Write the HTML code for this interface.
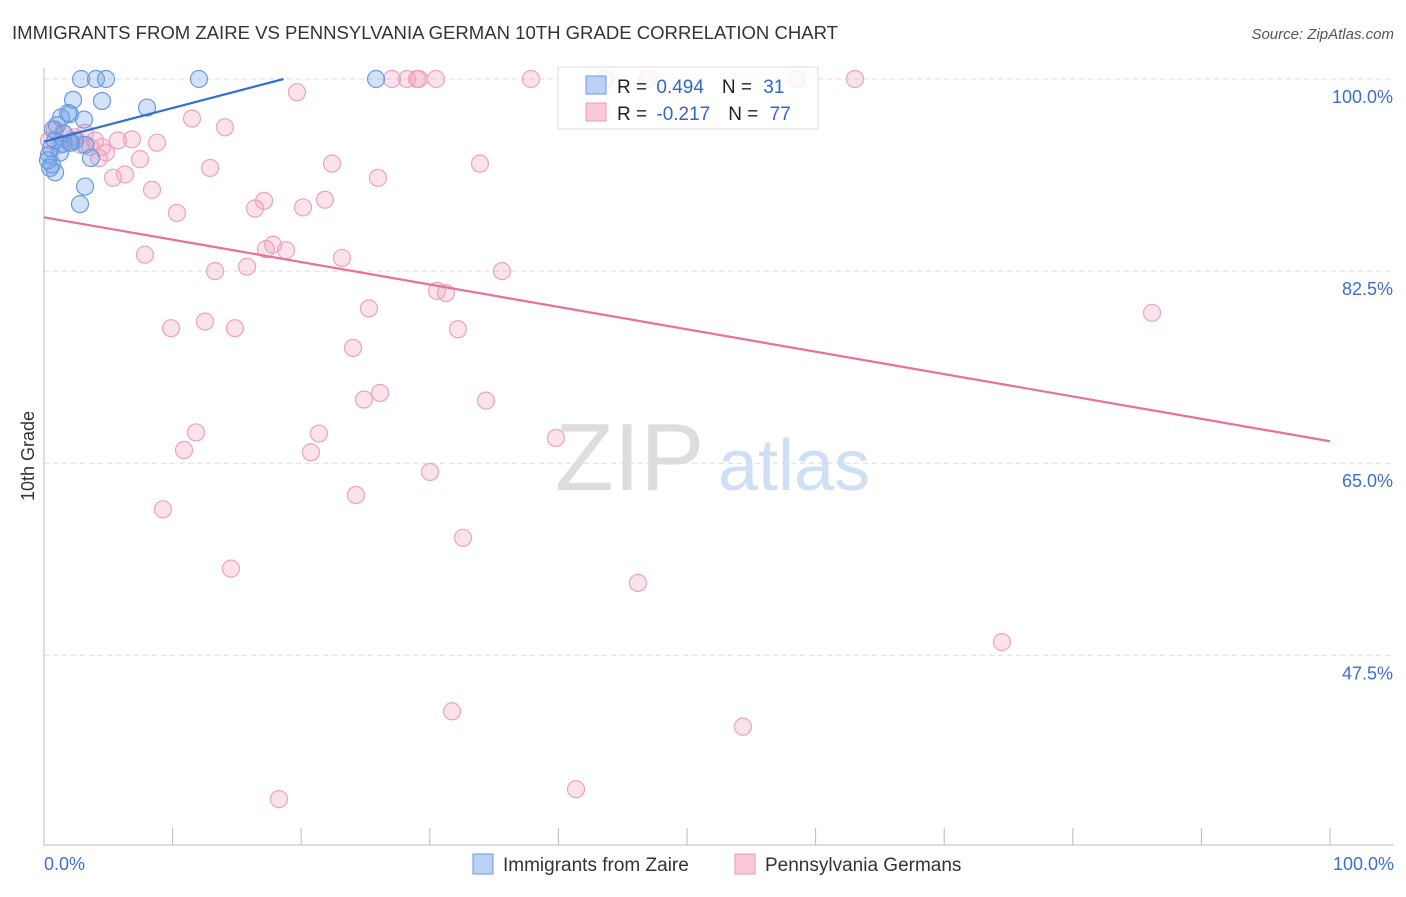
<!DOCTYPE html>
<html><head><meta charset="utf-8"><style>
body{margin:0;background:#fff;font-family:"Liberation Sans",sans-serif}
svg text{font-family:"Liberation Sans",sans-serif}
</style></head><body>
<svg id="chart" width="1406" height="892">
<text x="12" y="39" font-size="18" fill="#333" textLength="826" lengthAdjust="spacingAndGlyphs">IMMIGRANTS FROM ZAIRE VS PENNSYLVANIA GERMAN 10TH GRADE CORRELATION CHART</text>
<text x="1394" y="39" font-size="15" fill="#555" font-style="italic" text-anchor="end">Source: ZipAtlas.com</text>
<text x="555" y="490" font-size="96" fill="#ddd" font-family="Liberation Serif">ZIP</text>
<text x="718" y="490" font-size="72" fill="#cfdff5">atlas</text>
<text transform="translate(34,456) rotate(-90)" font-size="18" fill="#333" text-anchor="middle">10th Grade</text>
<g id="grid"></g><g id="pts"></g><g id="lines"></g>
<g>
<rect x="558" y="67" width="260" height="62" fill="rgba(255,255,255,0.8)" stroke="#ddd"/>
<rect x="586" y="76" width="20" height="18" fill="#b9d2f5" stroke="#6a9be0"/>
<rect x="586" y="103" width="20" height="18" fill="#fbcad9" stroke="#e89ab5"/>
<text x="617" y="93" font-size="19" fill="#222">R = <tspan fill="#3366cc" dx="4">0.494</tspan><tspan dx="18">N = </tspan><tspan fill="#3366cc" dx="6">31</tspan></text>
<text x="617" y="120" font-size="19" fill="#222">R = <tspan fill="#3366cc" dx="4">-0.217</tspan><tspan dx="18">N = </tspan><tspan fill="#3366cc" dx="6">77</tspan></text>
</g>
<g>
<rect x="473" y="854" width="20" height="20" fill="#b9d2f5" stroke="#6a9be0"/>
<text x="503" y="871" font-size="19" fill="#333">Immigrants from Zaire</text>
<rect x="735" y="854" width="20" height="20" fill="#fbcad9" stroke="#e89ab5"/>
<text x="765" y="871" font-size="19" fill="#333">Pennsylvania Germans</text>
</g>
</svg>
<script>
const yTicks=[100,82.5,65,47.5];
const yTickLabels=["100.0%","82.5%","65.0%","47.5%"];
const xTicks=[0,10,20,30,40,50,60,70,80,90,100];
const xEndLabels=["0.0%","100.0%"];
const zaireX=[2.88,4.04,4.82,12.05,25.82,4.51,8.01,2.26,1.87,1.32,2.02,3.11,1.01,0.70,1.56,2.41,3.19,2.02,1.48,0.86,0.54,1.24,3.65,0.39,0.62,0.86,0.47,3.19,2.80,0.31,2.10];
const zaireY=[100,100,100,100,100,98.0,97.4,98.1,96.9,96.5,96.8,96.3,95.8,95.4,95.0,94.4,94.0,94.2,94.1,94.4,93.7,93.3,92.8,93.1,92.2,91.5,91.9,90.2,88.6,92.6,94.2];
const paX=[27.06,28.23,29.16,30.48,37.87,43.62,46.97,58.55,63.06,19.67,11.51,14.07,0.86,1.48,3.97,5.75,6.84,8.79,2.88,4.82,7.47,4.28,12.91,22.40,33.90,5.37,6.30,25.97,8.40,17.11,21.85,20.14,16.41,10.34,17.81,17.26,18.82,7.85,23.17,15.79,13.30,35.61,30.56,31.26,25.27,86.16,9.88,12.52,14.85,32.19,24.03,26.13,24.88,34.37,11.82,21.38,39.81,10.89,20.76,30.02,24.26,9.25,32.58,14.54,46.19,74.49,31.73,54.35,18.27,41.37,3.19,2.41,4.51,29.0,0.39,3.58,1.24];
const paY=[100,100,100,100,100,100,100,100,100,98.8,96.4,95.6,95.4,95.1,94.4,94.4,94.5,94.2,94.0,93.3,92.7,92.8,91.9,92.3,92.3,91.0,91.3,91.0,89.9,88.9,89.0,88.3,88.2,87.8,84.9,84.5,84.4,84.0,83.7,82.9,82.5,82.5,80.7,80.5,79.1,78.7,77.3,77.9,77.3,77.2,75.5,71.4,70.8,70.7,67.8,67.7,67.3,66.2,66.0,64.2,62.1,60.8,58.2,55.4,54.1,48.7,42.4,41.0,34.4,35.3,95.1,94.7,93.8,100,94.4,93.8,94.0];
const zaireTrend=[94.3,0.306];
const paTrend=[87.4,-0.204];
const X=v=>44+v*12.86, Y=v=>79+(100-v)/0.0911;
const NS="http://www.w3.org/2000/svg";
function mk(t,a,p){const e=document.createElementNS(NS,t);for(const k in a)e.setAttribute(k,a[k]);p.appendChild(e);return e;}
const grid=document.getElementById('grid');
yTicks.forEach((t,i)=>{
 const l=mk('line',{x1:44,x2:1394,y1:Y(t),y2:Y(t),stroke:'#ddd','stroke-dasharray':'5,4'},grid);
 
 
 const tx=mk('text',{x:1393,y:Y(t)+24,'font-size':18,fill:'#3c6fd0','text-anchor':'end'},grid);
 tx.textContent=yTickLabels[i];
 
 
});
const ax=mk('line',{x1:44,x2:44,y1:68,y2:845,stroke:'#bbb'},grid);


const bx=mk('line',{x1:44,x2:1394,y1:845,y2:845,stroke:'#bbb'},grid);


xTicks.forEach(t=>{const l=mk('line',{x1:X(t),x2:X(t),y1:828,y2:845,stroke:'#bbb'},grid);
 
 });
[[0,'start',44],[100,'end',1394]].forEach((d,i)=>{const tx=mk('text',{x:d[2],y:870,'font-size':18,fill:'#3c6fd0','text-anchor':d[1]},grid);tx.textContent=xEndLabels[i];
 
 });
const pts=document.getElementById('pts');
paX.forEach((x,i)=>{const c=mk('circle',{cx:X(x),cy:Y(paY[i]),r:8.5,fill:'rgba(244,160,190,0.3)',stroke:'#eca3bd','stroke-width':1.2},pts);
 
 });
zaireX.forEach((x,i)=>{const c=mk('circle',{cx:X(x),cy:Y(zaireY[i]),r:8.5,fill:'rgba(110,160,230,0.3)',stroke:'#6a9be0','stroke-width':1.2},pts);
 
 });
const lines=document.getElementById('lines');
const xe=(100-zaireTrend[0])/zaireTrend[1];
const bl=mk('line',{x1:X(0),y1:Y(zaireTrend[0]),x2:X(xe),y2:Y(100),stroke:'#2f6fd6','stroke-width':2.2},lines);


const pl=mk('line',{x1:X(0),y1:Y(paTrend[0]),x2:X(100),y2:Y(paTrend[0]+paTrend[1]*100),stroke:'#e8709a','stroke-width':2.2},lines);


</script>
</body></html>
